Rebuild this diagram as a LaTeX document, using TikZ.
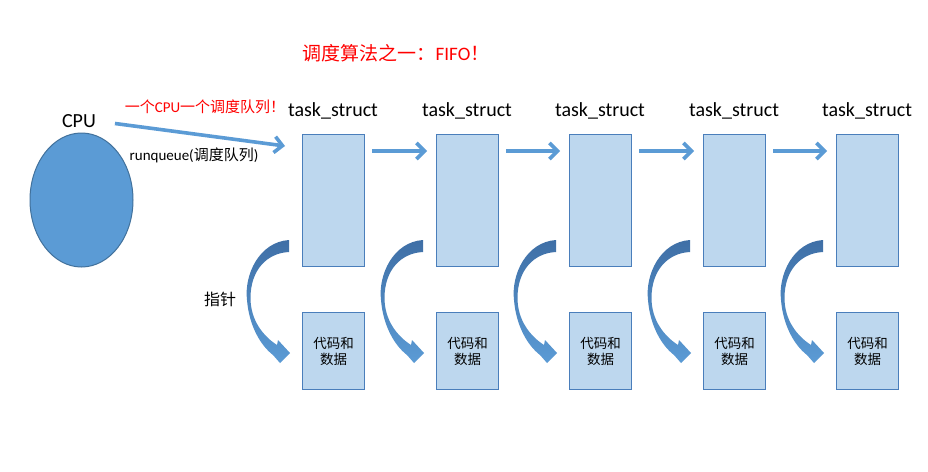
\documentclass[tikz,border=0pt]{standalone}
\usepackage{fontspec}
\setmainfont{Carlito}
\newfontfamily\cjk{Noto Sans CJK SC}
\usetikzlibrary{shapes.geometric,arrows.meta}
\definecolor{accent}{HTML}{5B9BD5}
\definecolor{boxfill}{HTML}{BDD7EE}
\definecolor{boxline}{HTML}{4A7EBB}
\definecolor{ellline}{HTML}{41719C}
\definecolor{curvetop}{HTML}{3F6FA6}
\definecolor{redtxt}{HTML}{FF0000}
\begin{document}
\begin{tikzpicture}[x=1pt,y=-1pt,
  taskbox/.style={draw=boxline,fill=boxfill,line width=1.2pt,minimum width=62pt,minimum height=132pt,inner sep=0pt,anchor=north west},
  databox/.style={draw=boxline,fill=boxfill,line width=1.2pt,minimum width=62pt,minimum height=77pt,inner sep=0pt,anchor=north west,align=center,font=\fontsize{13.5}{16}\selectfont\cjk},
  lbl/.style={inner sep=0pt,font=\fontsize{20}{24}\selectfont},
  flow/.style={draw=accent,line width=3.6pt,-{Straight Barb[length=8pt,width=16pt]}},
  curvearrow/.pic={\shade[top color=curvetop,bottom color=accent]
    (0,0) .. controls (-30,2) and (-45,35) .. (-42,60)
    .. controls (-40,85) and (-29,105) .. (-16,115)
    -- (-9,123) -- (1,113) -- (-11,100) -- (-12,105)
    .. controls (-26,96) and (-38.5,80) .. (-38.5,58)
    .. controls (-38.5,30) and (-22,13) .. (0,12) -- cycle;}
]
\useasboundingbox (0,0) rectangle (928,471);
\fill[white] (0,0) rectangle (928,471);

\node[inner sep=0pt,text=redtxt,font=\fontsize{19}{22}\selectfont] (title) at (396,53) {{\cjk 调度算法之一：}FIFO{\cjk ！}};

\node[draw=ellline,fill=accent,line width=1pt,ellipse,minimum width=103pt,minimum height=134pt,inner sep=0pt] (cpu) at (81.5,200) {};
\node[lbl] (cpulbl) at (79,121) {CPU};
\node[inner sep=0pt,text=redtxt,font=\fontsize{15}{18}\selectfont] (redlbl) at (205,107) {{\cjk 一个}CPU{\cjk 一个调度队列！}};
\node[inner sep=0pt,font=\fontsize{15}{18}\selectfont] (rq) at (194,155) {runqueue({\cjk 调度队列})};
\node[inner sep=0pt,font=\fontsize{16}{19}\selectfont\cjk] (ptr) at (220,299) {指针};

\foreach \i/\x in {1/302,2/436,3/569,4/703,5/836} {
  \node[taskbox] (t\i) at (\x,134) {};
  \node[databox] (d\i) at (\x,312) {代码和\\数据};
  \node[lbl] (l\i) at (\x+31,111) {task\_struct};
  \pic at (\x-13,240) {curvearrow};
}
\foreach \i/\j in {1/2,2/3,3/4,4/5}
  \draw[flow,shorten <=7pt,shorten >=9pt] ([yshift=-17pt]t\i.north east) -- ([yshift=-17pt]t\j.north west);
\draw[flow,shorten <=19pt] (cpulbl.east) -- ([xshift=-17pt,yshift=-12pt]t1.north west);
\end{tikzpicture}
\end{document}
